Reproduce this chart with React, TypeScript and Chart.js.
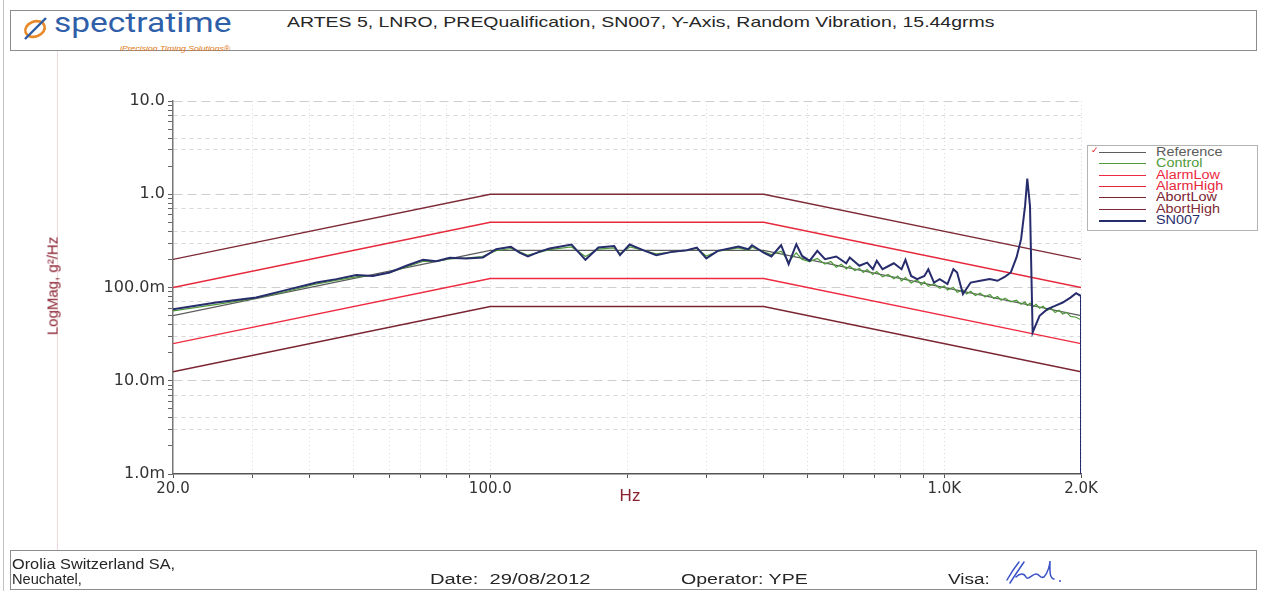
import React, { useEffect, useLayoutEffect, useRef, useState } from 'react';
import { Chart, registerables } from 'chart.js';

Chart.register(...registerables);

// ---------- data ----------
const SERIES_NAMES = ['Reference', 'Control', 'AlarmLow', 'AlarmHigh', 'AbortLow', 'AbortHigh', 'SN007'];
const SERIES_COLORS = ['#5c5c5c', '#4f9a3a', '#ee2a40', '#e6283c', '#7a2430', '#7e2a36', '#272c6c'];

const PROFILE_FREQ = [20, 100, 400, 2000];
const REFERENCE = [0.05, 0.25, 0.25, 0.05];
const ALARM_LOW = [0.025, 0.125, 0.125, 0.025];
const ALARM_HIGH = [0.1, 0.5, 0.5, 0.1];
const ABORT_LOW = [0.0125, 0.0625, 0.0625, 0.0125];
const ABORT_HIGH = [0.2, 1.0, 1.0, 0.2];

const SN007_FREQ = [
  20, 24.9, 30.5, 34.9, 41.4, 45.8, 50.7, 55.1, 60, 65.3, 71.1, 76, 81.4, 88.5, 96.3, 103, 111, 116, 121, 128,
  135, 151, 162, 173, 187.5, 193, 202.6, 219, 232, 251, 271, 285, 299, 317, 336, 352, 370, 377, 400, 416,
  437, 454, 472, 486, 505, 525, 546, 578, 608, 619, 650, 676, 696, 710, 731, 774, 805, 821, 845, 871,
  904, 922, 949, 977, 1016, 1047, 1067, 1099, 1143, 1200, 1259, 1309, 1361, 1401, 1442, 1476, 1506, 1523, 1544, 1565,
  1621, 1686, 1753, 1823, 1896, 1951, 2000, 2000,
];
const SN007_VALUES = [
  0.0586, 0.069, 0.078, 0.092, 0.113, 0.123, 0.136, 0.133, 0.145, 0.171, 0.198, 0.191, 0.208, 0.205, 0.21, 0.257, 0.273, 0.237, 0.215, 0.241,
  0.262, 0.289, 0.198, 0.268, 0.279, 0.222, 0.289, 0.247, 0.222, 0.241, 0.251, 0.268, 0.205, 0.247, 0.262, 0.275, 0.257, 0.284, 0.237, 0.215,
  0.284, 0.178, 0.291, 0.218, 0.193, 0.247, 0.201, 0.215, 0.182, 0.21, 0.171, 0.185, 0.157, 0.193, 0.157, 0.182, 0.157, 0.198, 0.133, 0.123,
  0.133, 0.157, 0.113, 0.123, 0.109, 0.157, 0.145, 0.085, 0.113, 0.118, 0.123, 0.118, 0.131, 0.145, 0.21, 0.33, 0.75, 1.47, 0.75, 0.033,
  0.0497, 0.0586, 0.0636, 0.069, 0.078, 0.087, 0.081, 0.0005,
];

const CONTROL_FREQ = [
  20, 25, 30, 35, 41, 46, 51, 55, 60, 65, 71, 76, 81, 88, 96, 103, 111, 116, 121, 128,
  135, 151, 162, 173, 187, 193, 203, 219, 232, 251, 271, 285, 299, 317, 336, 352, 370, 377, 400, 416,
  437, 454, 472, 486, 505, 525, 546, 562, 578, 593, 608, 619, 635, 650, 663, 676, 696, 710, 731, 752,
  774, 790, 805, 821, 845, 871, 890, 904, 922, 949, 977, 1000, 1016, 1047, 1067, 1099, 1120, 1143, 1170, 1200,
  1230, 1259, 1285, 1309, 1335, 1361, 1401, 1442, 1476, 1506, 1523, 1544, 1565, 1593, 1621, 1650, 1686, 1720, 1753, 1790,
  1823, 1860, 1896, 1951, 2000,
];
const CONTROL_VALUES = [
  0.056, 0.066, 0.076, 0.089, 0.108, 0.12, 0.131, 0.134, 0.144, 0.165, 0.19, 0.19, 0.203, 0.207, 0.215, 0.248, 0.262, 0.242, 0.222, 0.238,
  0.255, 0.272, 0.215, 0.258, 0.266, 0.232, 0.272, 0.248, 0.23, 0.24, 0.25, 0.262, 0.218, 0.245, 0.256, 0.266, 0.25, 0.27, 0.242, 0.225,
  0.245, 0.19, 0.235, 0.2, 0.19, 0.205, 0.178, 0.19, 0.165, 0.178, 0.158, 0.17, 0.152, 0.16, 0.145, 0.156, 0.138, 0.148, 0.13, 0.138,
  0.124, 0.133, 0.118, 0.128, 0.112, 0.121, 0.107, 0.115, 0.103, 0.11, 0.098, 0.104, 0.094, 0.1, 0.089, 0.094, 0.085, 0.091, 0.082, 0.087,
  0.079, 0.084, 0.076, 0.08, 0.073, 0.077, 0.07, 0.073, 0.066, 0.07, 0.064, 0.068, 0.062, 0.066, 0.06, 0.063, 0.057, 0.06, 0.054, 0.057,
  0.052, 0.054, 0.049, 0.048, 0.045,
];

const X_TICKS = [20, 30, 40, 50, 60, 70, 80, 90, 100, 200, 300, 400, 500, 600, 700, 800, 900, 1000, 2000];
const X_LABELED = [20, 100, 1000, 2000];
const X_LABELS = ['20.0', '100.0', '1.0K', '2.0K'];
const Y_DECADES = [0.001, 0.01, 0.1, 1];
const Y_LABELED = [0.001, 0.01, 0.1, 1, 10];
const Y_LABELS = ['1.0m', '10.0m', '100.0m', '1.0', '10.0'];
const Y_GRID_MANTISSAS = [3, 4, 7];

const FONT = "'Liberation Sans', Arial, sans-serif";
const AXIS_RED = '#8a2331';

function near(a: number, b: number) {
  return Math.abs(Math.log10(a) - Math.log10(b)) < 1e-6;
}

function FitText({ text, width, style }: { text: string; width: number; style?: React.CSSProperties }) {
  const ref = useRef<HTMLSpanElement>(null);
  const [sx, setSx] = useState(1);
  useLayoutEffect(() => {
    if (ref.current) {
      const w = ref.current.offsetWidth;
      if (w > 0) setSx(width / w);
    }
  }, [text, width]);
  return (
    <span
      ref={ref}
      style={{
        display: 'inline-block',
        whiteSpace: 'nowrap',
        transformOrigin: '0 50%',
        transform: `scaleX(${sx})`,
        ...style,
      }}
    >
      {text}
    </span>
  );
}

function ChartCanvas() {
  const canvasRef = useRef<HTMLCanvasElement>(null);
  useEffect(() => {
    if (!canvasRef.current) return;
    const mk = (xs: number[], ys: number[]) => xs.map((x, i) => ({ x, y: ys[i] }));
    const seriesData: Record<string, { x: number; y: number }[]> = {
      Reference: mk(PROFILE_FREQ, REFERENCE),
      Control: mk(CONTROL_FREQ, CONTROL_VALUES),
      AlarmLow: mk(PROFILE_FREQ, ALARM_LOW),
      AlarmHigh: mk(PROFILE_FREQ, ALARM_HIGH),
      AbortLow: mk(PROFILE_FREQ, ABORT_LOW),
      AbortHigh: mk(PROFILE_FREQ, ABORT_HIGH),
      SN007: mk(SN007_FREQ, SN007_VALUES),
    };
    const widths: Record<string, number> = {
      Reference: 1.2, Control: 1.2, AlarmLow: 1.4, AlarmHigh: 1.4, AbortLow: 1.4, AbortHigh: 1.4, SN007: 2,
    };
    const drawOrder = ['SN007', 'Control', 'Reference', 'AlarmLow', 'AlarmHigh', 'AbortLow', 'AbortHigh'];
    const datasets = drawOrder.map((name) => {
      const idx = SERIES_NAMES.indexOf(name);
      return {
        label: name,
        data: seriesData[name],
        borderColor: SERIES_COLORS[idx],
        backgroundColor: SERIES_COLORS[idx],
        borderWidth: widths[name],
        pointRadius: 0,
        tension: 0,
        fill: false,
      };
    });

    const yTicks: number[] = [];
    Y_DECADES.forEach((d) => {
      for (let m = 1; m <= 9; m++) yTicks.push(+(m * d).toPrecision(6));
    });
    yTicks.push(10);

    const chart = new Chart(canvasRef.current, {
      type: 'line',
      data: { datasets },
      options: {
        animation: false,
        responsive: false,
        devicePixelRatio: 1,
        layout: { padding: { left: 83, top: 101, right: 182, bottom: 87 } },
        plugins: { legend: { display: false }, tooltip: { enabled: false }, title: { display: false } },
        scales: {
          x: {
            type: 'logarithmic',
            min: 20,
            max: 2000,
            afterBuildTicks: (s: any) => {
              s.ticks = X_TICKS.map((v) => ({ value: v }));
            },
            afterFit: (s: any) => {
              s.height = 30;
            },
            ticks: {
              autoSkip: false,
              maxRotation: 0,
              minRotation: 0,
              padding: 2,
              color: '#333',
              font: { family: "'DejaVu Sans', sans-serif", size: 15 },
              callback: (v: any) => {
                const i = X_LABELED.findIndex((t) => near(t, Number(v)));
                return i >= 0 ? X_LABELS[i] : '';
              },
            },
            grid: {
              color: (c: any) => (c.tick && near(c.tick.value, 20) ? 'rgba(0,0,0,0)' : '#d9d9d9'),
              tickColor: '#555',
              tickLength: 4,
              lineWidth: 1,
            },
            border: { color: '#555', width: 1.5, dash: [1, 3] },
          },
          y: {
            type: 'logarithmic',
            min: 0.001,
            max: 10,
            afterBuildTicks: (s: any) => {
              s.ticks = yTicks.map((v) => ({ value: v }));
            },
            afterFit: (s: any) => {
              s.width = 90;
            },
            ticks: {
              autoSkip: false,
              padding: 3,
              color: '#333',
              font: { family: "'DejaVu Sans', sans-serif", size: 16 },
              callback: (v: any) => {
                const i = Y_LABELED.findIndex((t) => near(t, Number(v)));
                return i >= 0 ? Y_LABELS[i] : '';
              },
            },
            grid: {
              color: (c: any) => {
                if (!c.tick) return 'rgba(0,0,0,0)';
                const v = c.tick.value;
                if (near(v, 0.001)) return 'rgba(0,0,0,0)';
                if (Y_LABELED.some((t) => near(t, v))) return '#cfcfcf';
                const m = Math.round(v / Math.pow(10, Math.floor(Math.log10(v) + 1e-9)));
                return Y_GRID_MANTISSAS.includes(m) ? '#d8d8d8' : 'rgba(0,0,0,0)';
              },
              tickColor: '#666',
              tickLength: 5,
              lineWidth: 1,
            },
            border: {
              color: '#777',
              width: 1.5,
              dash: (c: any) => {
                if (c && c.tick && Y_LABELED.some((t) => near(t, c.tick.value))) return [9, 5];
                return [4, 4];
              },
            },
          },
        },
      },
    } as any);
    return () => chart.destroy();
  }, []);
  return <canvas ref={canvasRef} width={1263} height={591} style={{ position: 'absolute', left: 0, top: 0 }} />;
}

function Legend() {
  return (
    <div
      style={{
        position: 'absolute',
        left: 1087,
        top: 145,
        width: 171,
        height: 86,
        border: '1px solid #b4b4b4',
        boxSizing: 'border-box',
        background: '#fff',
        fontFamily: FONT,
      }}
    >
      {SERIES_NAMES.map((name, i) => (
        <div key={name} style={{ position: 'absolute', left: 0, top: 1 + i * 11.3, height: 11, width: '100%' }}>
          {i === 0 && (
            <span style={{ position: 'absolute', left: 3, top: -2, fontSize: 9, lineHeight: '10px', color: '#e2202e', fontFamily: "'DejaVu Sans', sans-serif" }}>
              ✓
            </span>
          )}
          <div
            style={{
              position: 'absolute',
              left: 11,
              top: 5,
              width: 47,
              height: 0,
              borderTop: `${name === 'SN007' ? 2 : 1.5}px solid ${SERIES_COLORS[i]}`,
            }}
          />
          <div
            style={{
              position: 'absolute',
              left: 68,
              top: -1,
              fontSize: 12,
              lineHeight: '13px',
              color: SERIES_COLORS[i],
              whiteSpace: 'nowrap',
              transform: 'scaleX(1.2)',
              transformOrigin: '0 50%',
            }}
          >
            {name}
          </div>
        </div>
      ))}
    </div>
  );
}

export default function App() {
  return (
    <div
      style={{
        position: 'absolute',
        left: 0,
        top: 0,
        width: 1263,
        height: 591,
        overflow: 'hidden',
        background: '#fff',
        fontFamily: FONT,
        color: '#222',
      }}
    >
      {/* scan edge lines */}
      <div style={{ position: 'absolute', left: 3, top: 0, width: 1, height: 591, background: '#c4c4c4' }} />
      <div style={{ position: 'absolute', left: 57, top: 50, width: 1, height: 500, background: '#f0d8db' }} />

      {/* header */}
      <div
        style={{
          position: 'absolute',
          left: 10,
          top: 10,
          width: 1247,
          height: 41,
          border: '1.5px solid #8c8c8c',
          boxSizing: 'border-box',
        }}
      />
      <svg style={{ position: 'absolute', left: 20, top: 15 }} width={32} height={26}>
        <ellipse cx={15} cy={14} rx={10} ry={7.5} transform="rotate(-20 15 14)" fill="none" stroke="#e8892a" strokeWidth={2.6} />
        <path d="M5 24 L26 3" stroke="#2d5ca6" strokeWidth={2.4} />
      </svg>
      <div style={{ position: 'absolute', left: 54, top: 9, lineHeight: 1 }}>
        <FitText text="spectratime" width={177} style={{ fontFamily: 'Roboto, sans-serif', fontSize: 28, color: '#2f5fa9', fontWeight: 400 }} />
      </div>
      <div style={{ position: 'absolute', left: 120, top: 38, lineHeight: 1 }}>
        <FitText text="iPrecision Timing Solutions®" width={110} style={{ fontSize: 7, color: '#e07a20', fontStyle: 'italic' }} />
      </div>
      <div style={{ position: 'absolute', left: 287, top: 14, lineHeight: 1 }}>
        <FitText text="ARTES 5, LNRO, PREQualification, SN007, Y-Axis, Random Vibration, 15.44grms" width={708} style={{ fontSize: 15, color: '#262626' }} />
      </div>

      <ChartCanvas />
      <Legend />

      {/* axis titles */}
      <div
        style={{
          position: 'absolute',
          left: 52,
          top: 286,
          transform: 'translate(-50%, -50%) rotate(-90deg)',
          whiteSpace: 'nowrap',
          fontSize: 15,
          lineHeight: 1,
          color: AXIS_RED,
        }}
      >
        LogMag, g²/Hz
      </div>
      <div
        style={{
          position: 'absolute',
          left: 630,
          top: 495,
          transform: 'translate(-50%, -50%)',
          whiteSpace: 'nowrap',
          fontSize: 17,
          lineHeight: 1,
          color: AXIS_RED,
        }}
      >
        Hz
      </div>

      {/* footer */}
      <div
        style={{
          position: 'absolute',
          left: 10,
          top: 550,
          width: 1247,
          height: 40,
          border: '1.5px solid #8c8c8c',
          boxSizing: 'border-box',
        }}
      />
      <div style={{ position: 'absolute', left: 12, top: 556, lineHeight: 1 }}>
        <FitText text="Orolia Switzerland SA," width={163} style={{ fontSize: 14, color: '#262626' }} />
      </div>
      <div style={{ position: 'absolute', left: 12, top: 571, lineHeight: 1 }}>
        <FitText text="Neuchatel," width={70} style={{ fontSize: 14, color: '#262626' }} />
      </div>
      <div style={{ position: 'absolute', left: 430, top: 571, lineHeight: 1 }}>
        <FitText text="Date:  29/08/2012" width={160} style={{ fontSize: 14, color: '#262626', whiteSpace: 'pre' }} />
      </div>
      <div style={{ position: 'absolute', left: 681, top: 571, lineHeight: 1 }}>
        <FitText text="Operator: YPE" width={127} style={{ fontSize: 14, color: '#262626' }} />
      </div>
      <div style={{ position: 'absolute', left: 948, top: 571, lineHeight: 1 }}>
        <FitText text="Visa:" width={42} style={{ fontSize: 14, color: '#262626' }} />
      </div>
      <svg style={{ position: 'absolute', left: 1003, top: 558 }} width={62} height={30}>
        <path
          d="M4 22 C8 15, 12 9, 16 4 M7 25 C12 17, 17 10, 21 4 M13 19 C17 15, 21 15, 23 19 C25 23, 29 16, 33 16 C37 16, 37 21, 41 19 C45 15, 47 6, 47 3 C47 11, 46 20, 51 21"
          fill="none"
          stroke="#3b52c6"
          strokeWidth={1.5}
          strokeLinecap="round"
        />
        <circle cx={57} cy={23} r={1} fill="#3b52c6" />
      </svg>
    </div>
  );
}
